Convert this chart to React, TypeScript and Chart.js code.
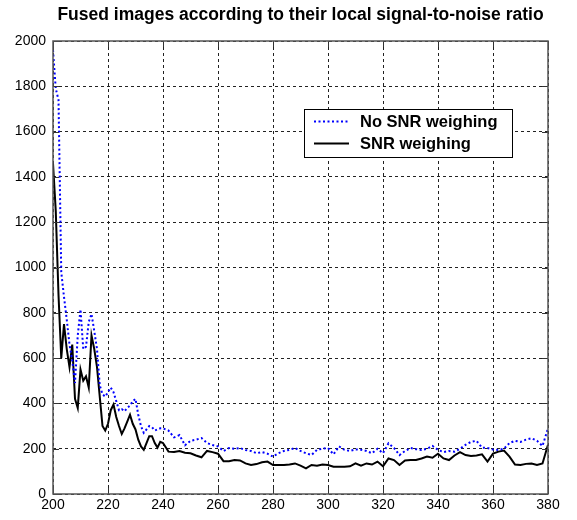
import { useEffect, useRef } from "react";
import { Chart, registerables } from "chart.js";

Chart.register(...registerables);

const titleText = "Fused images according to their local signal-to-noise ratio";
const seriesLabels = ["No SNR weighing", "SNR weighing"];
const xTicks = [200, 220, 240, 260, 280, 300, 320, 340, 360, 380];
const yTicks = [0, 200, 400, 600, 800, 1000, 1200, 1400, 1600, 1800, 2000];

const xValues = [
  200, 201, 202, 203, 204, 205, 206, 207, 208, 209,
  210, 211, 212, 213, 214, 215, 216, 217, 218, 219,
  220, 221, 222, 223, 224, 225, 226, 227, 228, 229,
  230, 231, 232, 233, 234, 235, 236, 237, 238, 239,
  240, 242, 244, 246, 248, 250, 252, 254, 256, 258,
  260, 262, 264, 266, 268, 270, 272, 274, 276, 278,
  280, 282, 284, 286, 288, 290, 292, 294, 296, 298,
  300, 302, 304, 306, 308, 310, 312, 314, 316, 318,
  320, 322, 324, 326, 328, 330, 332, 334, 336, 338,
  340, 342, 344, 346, 348, 350, 352, 354, 356, 358,
  360, 362, 364, 366, 368, 370, 372, 374, 376, 378,
  380,
];

const noSnrWeighing = [
  1960, 1790, 1740, 980, 870, 770, 660, 590, 490, 700,
  815, 640, 650, 760, 795, 720, 640, 480, 440, 430,
  450, 470, 450, 410, 370, 375, 365, 380, 390, 410,
  420, 350, 300, 270, 285, 300, 295, 280, 285, 290,
  290, 280, 250, 260, 215, 235, 240, 247, 225, 216,
  210, 190, 203, 200, 203, 194, 190, 180, 185, 178,
  165, 180, 190, 195, 203, 190, 180, 172, 195, 200,
  203, 175, 210, 195, 190, 197, 195, 190, 180, 200,
  180, 224, 203, 172, 190, 203, 198, 194, 200, 212,
  195, 185, 190, 187, 200, 217, 230, 235, 205, 203,
  196, 194, 200, 225, 235, 230, 240, 246, 235, 212,
  290,
];

const snrWeighing = [
  1460, 1250, 880, 600, 750, 640, 560, 660, 420, 380,
  550, 500, 520, 470, 700, 640, 560, 430, 300, 280,
  310, 370, 395, 340, 300, 265, 290, 320, 350, 310,
  285, 240, 210, 195, 225, 255, 255, 225, 205, 230,
  225, 187, 185, 190, 182, 180, 170, 162, 190, 185,
  178, 145, 145, 150, 148, 135, 128, 132, 140, 143,
  128, 128, 128, 130, 135, 125, 113, 128, 125, 130,
  128, 120, 120, 120, 122, 135, 125, 135, 130, 143,
  122, 157, 150, 128, 148, 150, 150, 157, 165, 160,
  178, 157, 150, 170, 185, 172, 168, 170, 175, 143,
  178, 187, 192, 165, 130, 128, 133, 135, 128, 135,
  217,
];

const FONT = "'Liberation Sans', Arial, sans-serif";

const boxPlugin = {
  id: "matlabBox",
  afterDatasetsDraw(chart: any) {
    const { ctx, chartArea: a, scales } = chart;
    const xs = scales.x;
    const ys = scales.y;
    ctx.save();
    ctx.strokeStyle = "#333";
    ctx.lineWidth = 1;
    ctx.beginPath();
    xTicks.forEach((v) => {
      const px = Math.round(xs.getPixelForValue(v)) + 0.5;
      ctx.moveTo(px, a.bottom);
      ctx.lineTo(px, a.bottom - 6);
      ctx.moveTo(px, a.top);
      ctx.lineTo(px, a.top + 6);
    });
    yTicks.forEach((v) => {
      const py = Math.round(ys.getPixelForValue(v)) + 0.5;
      ctx.moveTo(a.left, py);
      ctx.lineTo(a.left + 6, py);
      ctx.moveTo(a.right, py);
      ctx.lineTo(a.right - 6, py);
    });
    ctx.stroke();
    ctx.strokeStyle = "#555";
    ctx.lineWidth = 1.5;
    ctx.strokeRect(a.left, a.top, a.right - a.left, a.bottom - a.top);

    const lx = 304, ly = 109, lw = 208, lh = 48;
    ctx.fillStyle = "#fff";
    ctx.fillRect(lx, ly, lw, lh);
    ctx.strokeStyle = "#000";
    ctx.lineWidth = 1;
    ctx.strokeRect(lx + 0.5, ly + 0.5, lw, lh);
    const rows = [121, 143];
    chart.data.datasets.forEach((ds: any, i: number) => {
      const y = rows[i] + 0.5;
      ctx.save();
      ctx.strokeStyle = ds.borderColor;
      ctx.lineWidth = ds.borderWidth;
      ctx.setLineDash(ds.borderDash || []);
      ctx.beginPath();
      ctx.moveTo(314, y);
      ctx.lineTo(349, y);
      ctx.stroke();
      ctx.restore();
      ctx.fillStyle = "#000";
      ctx.font = `bold 16.5px ${FONT}`;
      ctx.textBaseline = "middle";
      ctx.textAlign = "left";
      ctx.fillText(ds.label, 360, rows[i] + 1);
    });
    ctx.restore();
  },
};

export default function App() {
  const ref = useRef<HTMLCanvasElement | null>(null);
  useEffect(() => {
    if (!ref.current) return;
    const chart = new Chart(ref.current, {
      type: "line",
      data: {
        datasets: [
          {
            label: seriesLabels[0],
            data: xValues.map((x, i) => ({ x, y: noSnrWeighing[i] })),
            borderColor: "#0000ff",
            borderWidth: 2,
            borderDash: [2, 2.5],
            pointRadius: 0,
            tension: 0,
            fill: false,
          },
          {
            label: seriesLabels[1],
            data: xValues.map((x, i) => ({ x, y: snrWeighing[i] })),
            borderColor: "#000000",
            borderWidth: 2,
            pointRadius: 0,
            tension: 0,
            fill: false,
          },
        ],
      },
      options: {
        responsive: false,
        animation: false,
        layout: { padding: { left: 0, right: 29, top: 0, bottom: 0 } },
        plugins: {
          legend: { display: false },
          tooltip: { enabled: false },
          title: {
            display: true,
            text: titleText,
            fullSize: false,
            color: "#000",
            font: { family: FONT, size: 17.5, weight: "bold", lineHeight: 1.2 },
            padding: { top: 5, bottom: 15 },
          },
        },
        scales: {
          x: {
            type: "linear",
            min: 200,
            max: 380,
            afterBuildTicks: (s: any) => {
              s.ticks = xTicks.map((v) => ({ value: v }));
            },
            afterFit: (s: any) => {
              s.height = 26;
            },
            ticks: {
              color: "#000",
              font: { family: FONT, size: 14 },
              padding: 3,
              maxRotation: 0,
              autoSkip: false,
              callback: (v: any) => String(v),
            },
            grid: { color: "#222", lineWidth: 1, drawTicks: false },
            border: { display: false, dash: [3, 3] },
          },
          y: {
            type: "linear",
            min: 0,
            max: 2000,
            afterBuildTicks: (s: any) => {
              s.ticks = yTicks.map((v) => ({ value: v }));
            },
            afterFit: (s: any) => {
              s.width = 53;
            },
            ticks: {
              color: "#000",
              font: { family: FONT, size: 14 },
              padding: 7,
              autoSkip: false,
              callback: (v: any) => String(v),
            },
            grid: { color: "#222", lineWidth: 1, drawTicks: false },
            border: { display: false, dash: [3, 3] },
          },
        },
      },
      plugins: [boxPlugin],
    });
    return () => chart.destroy();
  }, []);
  return (
    <div style={{ position: "absolute", left: 0, top: 0, width: 577, height: 520, background: "#fff" }}>
      <canvas ref={ref} width={577} height={520} />
    </div>
  );
}
